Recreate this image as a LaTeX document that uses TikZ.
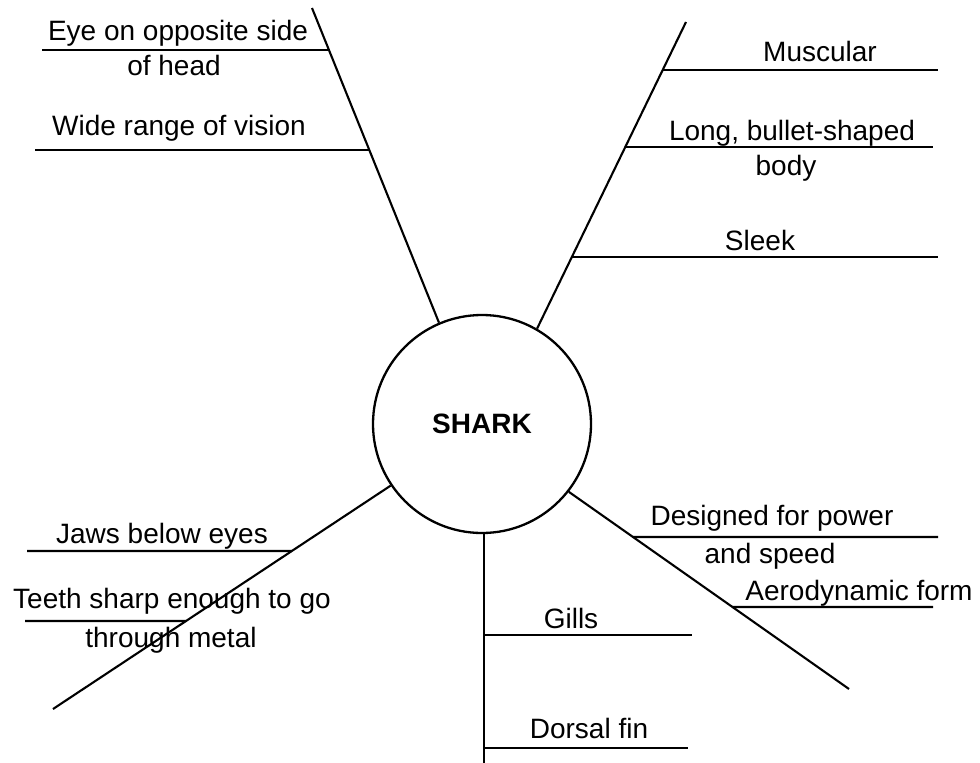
\documentclass[tikz,border=0pt]{standalone}
\usepackage{fontspec}
\setmainfont{Liberation Sans}

\begin{document}
\begin{tikzpicture}[x=1pt,y=-1pt,line width=2.1pt,
		lbl/.style={anchor=base,inner sep=0pt,font=\fontsize{28}{33}\selectfont}]
		\useasboundingbox (0,0) rectangle (980,763);
		\node[circle,draw,line width=2.3pt,minimum size=218pt,inner sep=0pt,
			font=\fontsize{28}{33}\selectfont\bfseries] (shark) at (482,424) {SHARK};
		
		\coordinate (eyeend) at (312,8);
		\coordinate (bodyend) at (686,22);
		\coordinate (jawend) at (53,709);
		\coordinate (powerend) at (849,689);
		\coordinate (finend) at (484,763);
		
		\draw (shark.113) -- (eyeend);
		\draw (shark.60) -- (bodyend);
		\draw (shark.214) -- (jawend);
		\draw (shark.322) -- (powerend);
		\draw (finend |- shark.south) -- (finend);
		
		\draw (42,50) -- (intersection of shark.113--eyeend and 0,50--1,50);
		\draw (35,150) -- (intersection of shark.113--eyeend and 0,150--1,150);
		\node[lbl] (eye) at (178,40) {Eye on opposite side};
		\node[lbl] (head) at (174,75) {of head};
		\node[lbl] (vision) at (179,135) {Wide range of vision};
		
		\draw (intersection of shark.60--bodyend and 0,70--1,70) -- (938,70);
		\draw (intersection of shark.60--bodyend and 0,147--1,147) -- (933,147);
		\draw (intersection of shark.60--bodyend and 0,257--1,257) -- (938,257);
		\node[lbl] (muscular) at (820,61) {Muscular};
		\node[lbl] (bullet) at (792,140) {Long, bullet-shaped};
		\node[lbl] (body) at (786,175) {body};
		\node[lbl] (sleek) at (760,250) {Sleek};
		
		\draw (27,551) -- (intersection of shark.214--jawend and 0,551--1,551);
		\draw (25,621) -- (intersection of shark.214--jawend and 0,621--1,621);
		\node[lbl] (jaws) at (162,543) {Jaws below eyes};
		\node[lbl] (teeth) at (172,608) {Teeth sharp enough to go};
		\node[lbl] (metal) at (171,647) {through metal};
		
		\draw (intersection of shark.322--powerend and 0,537--1,537) -- (938,537);
		\draw (intersection of shark.322--powerend and 0,607--1,607) -- (933,607);
		\node[lbl] (power) at (772,525) {Designed for power};
		\node[lbl] (speed) at (770,563) {and speed};
		\node[lbl] (aero) at (859,600) {Aerodynamic form};
		
		\draw (finend |- 0,635) -- (692,635);
		\draw (finend |- 0,748) -- (688,748);
		\node[lbl] (gills) at (571,628) {Gills};
		\node[lbl] (dorsal) at (589,738) {Dorsal fin};
	\end{tikzpicture}
\end{document}
